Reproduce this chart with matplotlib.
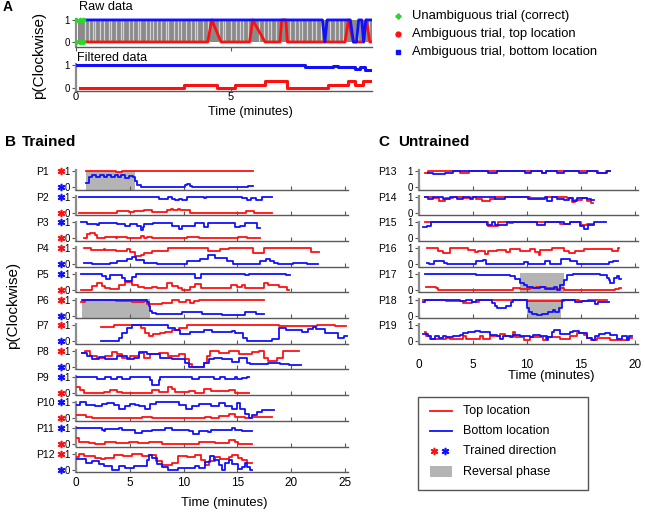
import matplotlib
matplotlib.use('Agg')
import matplotlib.pyplot as plt
from matplotlib.patches import Rectangle

plt.rcParams['font.family'] = ['Liberation Sans', 'DejaVu Sans']

RED = '#ff1010'
BLUE = '#1010ff'
GREEN = '#22dd22'
SHADE = '#b4b4b4'
SPINE = '#5a5a5a'

# ---------------- panel A (one example participant) ----------------
A_raw_red = [(0.3, 0), (4.25, 0), (4.38, 1), (4.68, 0), (5.6, 0), (5.7, 1), (6.1, 0),
             (6.58, 0), (6.64, 1), (6.77, 1), (6.82, 0), (8.68, 0), (8.79, 1), (8.95, 0),
             (9.27, 0), (9.37, 1), (9.48, 0), (9.55, 0)]
A_raw_blue = [(0.3, 1), (7.95, 1), (8.03, 0), (8.1, 1), (8.85, 1), (8.95, 0), (9.05, 0),
              (9.12, 1), (9.22, 1), (9.28, 0), (9.35, 1), (9.55, 1)]
A_green_t = [0.0, 0.12, 0.24]
A_trial_stripes = [0.3, 0.42, 0.55, 0.61, 0.78, 0.9, 1.05, 1.12, 1.3, 1.45, 1.52, 1.7, 1.85,
                   2.0, 2.08, 2.25, 2.4, 2.47, 2.6, 2.75, 2.9, 2.97, 3.15, 3.3, 3.38, 3.55,
                   3.7, 3.85, 3.92, 4.1, 4.25, 4.6, 4.75, 4.82, 5.0, 5.15, 5.3, 5.38, 5.55,
                   5.9, 6.05, 6.2, 6.3, 6.45, 6.9, 7.05, 7.2, 7.28, 7.45, 7.6, 7.75, 7.9,
                   8.2, 8.35, 8.5, 8.6, 9.1, 9.45]
A_filt_blue = [(0, 1), (7.4, 0.9), (8.3, 0.97), (8.45, 0.9), (9.0, 0.83), (9.16, 0.9),
               (9.32, 0.8), (9.55, 0.8)]
A_filt_red = [(0.13, 0), (3.5, 0.14), (4.54, 0), (5.13, 0.14), (6.1, 0.3), (6.8, 0.0),
              (8.14, 0.14), (8.78, 0.3), (9.0, 0.14), (9.25, 0.3), (9.55, 0.3)]

# ---------------- panel B (trained) ----------------
P1_red = [(0.93, 1), (3.7, 0.93), (4.3, 1), (16.5, 1)]
P1_blue = [(0.93, 0.25), (1.2, 0.6), (1.5, 0.72), (1.9, 0.65), (2.2, 0.72), (2.6, 0.62),
           (2.9, 0.72), (3.3, 0.65), (3.6, 0.75), (3.9, 0.6), (4.2, 0.72), (4.6, 0.55),
           (4.9, 0.7), (5.3, 0.6), (5.5, 0.4), (5.7, 0.15), (6.0, 0.0), (10.1, 0.1),
           (10.3, 0.2), (10.6, 0.05), (10.8, 0.0), (16.0, 0.05), (16.5, 0.05)]
P2_red = [(0.31, 0), (3.8, 0.1), (4.9, 0.05), (5.4, 0.12), (6.3, 0.2), (7.1, 0.05),
          (8.5, 0.15), (8.8, 0.25), (9.0, 0.15), (9.5, 0.25), (9.7, 0.15), (10.6, 0.0),
          (15.8, 0.1), (16.6, 0.0), (18.2, 0.0)]
P2_blue = [(0.31, 1), (7.7, 0.88), (8.6, 1), (8.9, 0.85), (9.2, 0.8), (9.6, 0.88),
           (9.9, 0.8), (10.3, 1), (11.9, 0.92), (12.1, 1), (15.4, 0.9), (15.9, 0.82),
           (16.3, 0.9), (16.7, 0.82), (17.3, 1), (18.2, 1)]
P3_red = [(0.7, 0), (1.0, 0.25), (1.3, 0.35), (1.8, 0.2), (1.95, 0.05), (2.1, 0),
          (2.7, 0.1), (3.7, 0.05), (3.8, 0.1), (4.7, 0.0), (6.0, 0.15), (6.3, 0.05),
          (6.6, 0.1), (7.1, 0.0), (10.3, 0.1), (11.4, 0.0), (15.1, 0.1), (15.9, 0.05),
          (17.1, 0.05)]
P3_blue = [(0.5, 1), (1.0, 0.93), (1.95, 0.85), (2.1, 0.95), (3.8, 0.92), (4.6, 0.8),
           (5.05, 0.92), (5.7, 0.8), (6.0, 0.55), (6.2, 0.7), (6.3, 0.9), (7.2, 0.95),
           (8.9, 0.8), (9.55, 0.6), (9.85, 0.75), (11.1, 0.95), (11.9, 0.7), (12.3, 0.95),
           (14.8, 0.7), (15.3, 0.8), (15.75, 0.95), (16.8, 0.65), (17.1, 0.65)]
P4_red = [(0.7, 1), (1.4, 0.9), (2.6, 0.96), (2.7, 0.88), (3.7, 0.83), (4.7, 0.94),
          (5.0, 0.73), (5.5, 0.48), (6.0, 0.58), (6.3, 0.69), (7.1, 0.79), (8.0, 0.85),
          (8.6, 1), (12.3, 0.85), (13.0, 0.79), (13.4, 0.94), (14.2, 1), (16.5, 0.69),
          (17.5, 1), (21.9, 0.75), (22.6, 0.75)]
P4_blue = [(0.7, 0.1), (1.5, 0.0), (3.2, 0.1), (3.8, 0.2), (4.7, 0.35), (5.2, 0.45),
           (5.6, 0.27), (6.3, 0.06), (7.5, 0.0), (10.3, 0.2), (11.5, 0.35), (12.3, 0.58),
           (12.9, 0.4), (14.0, 0.2), (14.6, 0.0), (17.1, 0.2), (17.7, 0.3), (18.0, 0.2),
           (18.4, 0.1), (18.8, 0.0), (20.2, 0.1), (21.5, 0.0), (22.5, 0.0)]
P5_red = [(0.5, 0), (1.5, 0.25), (1.95, 0.45), (2.4, 0.25), (2.7, 0.1), (3.2, 0.05),
          (4.0, 0.3), (4.6, 0.5), (5.2, 0.3), (5.8, 0.15), (6.3, 0.1), (7.1, 0.2),
          (7.5, 0.1), (8.5, 0.4), (8.9, 0.25), (9.5, 0.1), (9.9, 0.0), (10.6, 0.15),
          (11.1, 0.35), (11.6, 0.1), (14.4, 0.3), (15.0, 0.2), (15.4, 0.3), (15.75, 0.1),
          (17.5, 0.45), (17.9, 0.3), (18.85, 0.2), (19.6, 0.0), (19.8, 0.0)]
P5_blue = [(0.5, 1), (2.4, 0.85), (2.8, 0.7), (3.2, 0.9), (4.3, 0.75), (4.6, 0.55),
           (5.2, 0.8), (5.6, 1), (11.1, 0.75), (11.6, 1), (15.75, 0.93), (16.1, 1),
           (19.5, 0.93), (19.9, 0.93)]
P6_red = [(0.5, 0.85), (0.8, 1), (2.7, 0.95), (3.7, 0.9), (5.2, 0.85), (6.3, 0.9),
          (6.6, 0.75), (6.8, 0.7), (7.1, 0.75), (8.0, 0.8), (8.9, 0.95), (9.55, 0.85),
          (10.2, 1), (10.6, 0.8), (10.95, 0.9), (11.4, 1), (17.5, 1)]
P6_blue = [(0.55, 1), (2.7, 0.95), (4.3, 1), (5.8, 0.95), (6.6, 0.85), (6.8, 0.6),
           (6.9, 0.3), (7.1, 0.15), (7.4, 0.07), (9.9, 0.2), (11.7, 0.07), (13.6, 0.03),
           (15.75, 0.25), (16.7, 0.07), (17.5, 0.07)]
P7_red = [(2.35, 0.9), (3.5, 1), (6.0, 0.8), (6.45, 0.5), (6.75, 0.3), (7.2, 0.45),
          (7.85, 0.5), (8.3, 0.6), (8.9, 0.7), (9.55, 0.85), (10.3, 1), (18.85, 0.95),
          (22.4, 1), (24.1, 0.92), (25.1, 0.92)]
P7_blue = [(2.3, 0), (4.0, 0.2), (4.3, 0.5), (4.75, 0.8), (5.2, 1), (8.6, 0.85),
           (9.25, 0.7), (9.7, 0.45), (10.65, 0.6), (11.9, 0.7), (12.65, 0.6), (13.6, 0.55),
           (14.5, 0.65), (14.8, 0.5), (15.5, 0.2), (15.9, 0.0), (18.2, 0.15), (18.85, 0.85),
           (19.5, 0.7), (21.0, 0.6), (21.6, 0.75), (22.0, 0.9), (22.3, 0.75), (23.2, 0.5),
           (24.4, 0.2), (24.9, 0.3), (25.2, 0.3)]
P8_red = [(0.55, 0.9), (0.87, 1), (1.33, 0.69), (1.95, 0.58), (2.73, 0.69), (3.35, 0.94),
          (3.8, 0.79), (4.28, 0.58), (5.05, 0.69), (5.83, 0.9), (6.29, 0.58), (6.9, 0.79),
          (7.7, 0.9), (8.6, 0.69), (9.55, 0.79), (10.17, 0.48), (10.48, 0.17), (10.8, 0.02),
          (11.9, 0.27), (12.2, 0.69), (12.5, 1), (13.27, 0.9), (14.2, 1), (15.13, 0.79),
          (16.4, 0.94), (17.0, 1), (17.5, 0.58), (17.9, 0.375), (18.7, 0.58), (19.3, 1),
          (20.7, 1)]
P8_blue = [(0.55, 0.9), (1.0, 0.69), (1.5, 0.48), (2.1, 0.625), (2.7, 0.48), (3.8, 0.69),
           (4.7, 0.48), (5.36, 0.58), (5.83, 0.94), (6.6, 0.79), (7.84, 0.58), (8.93, 0.48),
           (10.17, 0.27), (10.5, 0.0), (11.9, 0.27), (12.34, 0.48), (12.8, 0.58),
           (13.6, 0.48), (14.5, 0.33), (15.13, 0.58), (15.9, 0.27), (16.2, 0.17),
           (17.9, 0.27), (19.0, 0.17), (19.8, 0.1), (20.9, 0.1)]
P9_red = [(0, 0.35), (0.4, 0.15), (0.7, 0.0), (2.6, 0.05), (3.2, 0.15), (3.8, 0.05),
          (4.3, 0.0), (7.1, 0.15), (7.7, 0.05), (8.6, 0.35), (8.9, 0.2), (9.2, 0.05),
          (10.5, 0.1), (11.1, 0.0), (11.9, 0.2), (12.6, 0.1), (14.2, 0.15), (14.8, 0.0),
          (16.1, 0.0)]
P9_blue = [(0, 1), (1.95, 0.85), (2.7, 0.95), (3.3, 0.88), (3.8, 1), (4.3, 0.85),
           (5.05, 1), (6.9, 0.8), (7.1, 0.5), (7.7, 0.8), (7.85, 1), (10.8, 0.88),
           (11.4, 1), (12.8, 0.88), (13.4, 1), (13.9, 0.85), (14.8, 1), (15.0, 0.85),
           (15.4, 0.9), (15.9, 1), (16.1, 1)]
P10_red = [(0, 0.2), (0.9, 0.1), (1.5, 0.0), (6.1, 0.1), (7.1, 0.0), (9.9, 0.05),
           (12.0, 0.1), (12.6, 0.05), (13.3, 0.15), (14.2, 0.25), (14.8, 0.1),
           (15.75, 0.0), (16.4, 0.1), (18.2, 0.1)]
P10_blue = [(0, 0.85), (0.4, 1), (0.9, 0.85), (1.8, 0.8), (2.4, 0.9), (2.9, 0.95),
            (3.5, 0.85), (4.0, 0.6), (4.6, 0.8), (5.05, 0.9), (5.5, 0.85), (5.9, 0.8),
            (6.4, 0.6), (6.9, 0.9), (7.4, 1), (9.6, 0.85), (10.2, 0.6), (10.8, 0.75),
            (11.4, 0.9), (12.6, 0.8), (13.3, 0.95), (13.9, 0.75), (14.5, 0.6), (15.0, 0.95),
            (15.3, 0.6), (15.7, 0.3), (16.1, 0.0), (16.4, 0.2), (16.85, 0.4), (17.3, 0.55),
            (17.9, 0.5), (18.4, 0.5)]
P11_red = [(0, 0.4), (0.25, 0.15), (1.2, 0.05), (1.8, 0.0), (2.7, 0.1), (3.7, 0.05),
           (4.9, 0.1), (5.8, 0.05), (6.8, 0.1), (8.0, 0.0), (11.4, 0.1), (12.9, 0.05),
           (14.2, 0.25), (14.8, 0.1), (15.1, 0.0), (16.4, 0.0)]
P11_blue = [(0, 1), (2.4, 0.9), (2.6, 0.8), (2.7, 0.95), (3.97, 1), (4.3, 0.85),
            (5.5, 0.7), (6.1, 0.8), (7.1, 0.9), (8.3, 1), (8.9, 0.9), (10.5, 0.8),
            (10.9, 0.6), (11.4, 0.8), (12.3, 0.75), (12.6, 0.9), (14.5, 1), (14.8, 0.85),
            (15.4, 0.8), (16.4, 0.8)]
P12_red = [(0, 0.8), (0.25, 1), (0.7, 0.85), (1.8, 0.75), (2.3, 0.65), (2.7, 0.75),
           (3.5, 0.95), (4.4, 0.85), (5.2, 1), (6.1, 0.85), (6.8, 0.9), (7.4, 0.55),
           (8.0, 0.3), (8.9, 0.4), (9.5, 0.85), (10.3, 0.8), (11.1, 0.9), (11.6, 0.6),
           (12.0, 0.3), (12.35, 0.55), (12.9, 0.8), (13.4, 0.65), (14.2, 0.8), (14.5, 0.9),
           (15.1, 0.75), (15.4, 0.6), (15.9, 0.4), (16.4, 0.4)]
P12_blue = [(0, 0.65), (0.9, 0.45), (1.5, 0.55), (2.1, 0.35), (2.6, 0.25), (3.35, 0.0),
            (4.0, 0.25), (4.6, 0.1), (5.4, 0.25), (6.6, 0.6), (6.8, 0.95), (7.1, 0.75),
            (7.5, 0.35), (8.0, 0.15), (8.6, 0.0), (9.5, 0.1), (11.1, 0.25), (11.4, 0.1),
            (12.0, 0.5), (12.5, 0.85), (12.8, 0.6), (13.3, 0.3), (13.6, 0.0), (13.9, 0.4),
            (14.2, 0.6), (14.5, 0.35), (15.1, 0.05), (15.4, 0.2), (15.75, 0.4),
            (15.9, 0.15), (16.2, 0.0), (16.4, 0.0)]

# ---------------- panel C (untrained) ----------------
P13_red = [(0.53, 0.9), (0.84, 1), (3.8, 0.87), (4.6, 1), (11.4, 0.9), (11.8, 1),
           (16.6, 0.9), (17.3, 1), (17.7, 1)]
P13_blue = [(0.84, 0.9), (1.3, 0.8), (2.4, 0.9), (3.16, 1), (6.4, 0.85), (7.2, 1),
            (9.8, 0.85), (10.4, 1), (11.4, 0.9), (11.8, 1), (12.8, 0.85), (13.4, 1),
            (14.8, 0.85), (15.6, 1), (16.5, 0.85), (17.4, 1), (17.75, 1)]
P14_red = [(0.53, 1), (1.3, 0.9), (1.9, 0.75), (2.4, 0.9), (3.16, 1), (4.1, 0.9),
           (4.9, 1), (5.3, 0.85), (5.8, 0.75), (6.6, 0.85), (7.0, 1), (10.3, 0.9),
           (11.8, 1), (13.7, 0.9), (14.2, 0.65), (14.5, 0.8), (15.1, 0.9), (15.6, 0.75),
           (15.9, 0.6), (16.1, 0.6)]
P14_blue = [(0.53, 1), (0.84, 0.85), (1.3, 1), (2.2, 0.85), (2.85, 1), (3.5, 0.85),
            (4.1, 1), (4.7, 0.85), (5.0, 1), (7.0, 0.85), (8.0, 1), (10.1, 0.85),
            (11.7, 1), (11.9, 0.75), (12.3, 1), (12.8, 0.85), (13.4, 0.8), (13.9, 0.9),
            (14.3, 0.75), (14.6, 0.95), (15.6, 0.85), (15.9, 0.8), (16.2, 0.8)]
P15_red = [(0.53, 1), (6.4, 0.75), (7.35, 1), (8.3, 0.95), (8.7, 1), (13.1, 0.9),
           (14.0, 1), (15.0, 0.85), (15.6, 0.9), (16.2, 0.9)]
P15_blue = [(0.37, 0.7), (0.7, 0.8), (1.15, 1), (6.26, 0.85), (6.73, 1), (7.04, 0.85),
            (8.12, 1), (10.9, 0.85), (11.7, 1), (13.4, 0.9), (14.0, 1), (14.95, 0.8),
            (15.3, 0.6), (15.7, 0.85), (16.2, 1), (17.3, 1)]
P16_red = [(0.74, 1), (1.77, 0.85), (2.2, 0.7), (2.85, 1), (4.56, 0.9), (5.2, 0.75),
           (5.5, 0.85), (6.1, 0.65), (6.4, 0.8), (7.2, 0.9), (8.1, 0.75), (8.4, 0.95),
           (9.4, 0.85), (10.3, 0.95), (10.76, 0.75), (11.1, 0.6), (11.25, 0.9), (12.3, 1),
           (13.4, 0.85), (13.9, 0.7), (14.5, 0.8), (15.3, 0.95), (17.9, 0.85), (18.4, 1),
           (18.5, 1)]
P16_blue = [(0.74, 0.1), (0.95, 0.0), (1.4, 0.2), (2.3, 0.05), (2.6, 0.0), (5.3, 0.2),
            (5.9, 0.25), (6.2, 0.03), (9.7, 0.12), (10.1, 0.03), (11.7, 0.2), (12.1, 0.03),
            (13.2, 0.3), (13.6, 0.35), (14.0, 0.2), (14.6, 0.03), (17.6, 0.12), (18.0, 0.2),
            (18.4, 0.2)]
P17_red = [(0.68, 0.15), (0.84, 0.2), (1.6, 0.1), (1.77, 0.0), (8.7, 0.1), (9.4, 0.05),
           (10.3, 0.1), (10.8, 0.15), (11.8, 0.1), (12.5, 0.05), (13.1, 0.1), (13.4, 0.0),
           (18.2, 0.05), (18.5, 0.1), (18.7, 0.1)]
P17_blue = [(0.53, 1), (5.3, 0.9), (7.2, 0.95), (8.4, 0.85), (8.9, 0.65), (9.4, 0.45),
            (9.7, 0.3), (10.0, 0.2), (10.6, 0.1), (11.2, 0.2), (11.7, 0.05), (12.5, 0.2),
            (12.8, 0.0), (13.1, 0.3), (13.4, 0.6), (13.7, 0.9), (14.3, 1), (16.8, 0.9),
            (17.4, 0.75), (17.6, 0.6), (17.75, 0.4), (18.05, 0.75), (18.35, 0.85),
            (18.5, 0.7), (18.7, 0.7)]
P18_red = [(0.37, 1), (2.5, 0.9), (4.1, 0.8), (4.9, 0.85), (5.6, 1), (6.9, 0.95),
           (8.4, 1), (10.0, 0.93), (13.4, 1), (14.8, 0.9), (15.7, 1), (17.4, 1)]
P18_blue = [(0.37, 0.85), (0.53, 1), (3.8, 0.9), (4.4, 1), (4.9, 0.85), (5.3, 1),
            (6.8, 0.8), (7.0, 0.6), (7.2, 0.45), (8.1, 0.6), (8.5, 0.85), (8.7, 1),
            (10.0, 0.5), (10.2, 0.2), (10.5, 0.1), (10.9, 0.02), (11.4, 0.1), (12.0, 0.2),
            (12.4, 0.35), (12.65, 0.2), (12.95, 0.5), (13.3, 0.95), (13.5, 1), (14.5, 0.85),
            (15.1, 0.9), (16.3, 0.75), (16.6, 0.85), (17.6, 0.85)]
P19_red = [(0.53, 0.55), (0.68, 0.35), (1.0, 0.15), (2.54, 0.2), (2.85, 0.15), (4.1, 0.3),
           (4.4, 0.15), (5.64, 0.35), (5.95, 0.15), (6.6, 0.3), (7.5, 0.45), (7.97, 0.35),
           (8.74, 0.55), (8.9, 0.25), (9.7, 0.1), (10.3, 0.25), (11.5, 0.1), (11.8, 0.25),
           (13.1, 0.15), (14.0, 0.35), (14.6, 0.5), (15.3, 0.4), (15.6, 0.2), (15.9, 0.1),
           (16.5, 0.2), (17.7, 0.1), (18.2, 0.05), (19.3, 0.2), (19.75, 0.2)]
P19_blue = [(0.37, 0.45), (0.84, 0.3), (1.15, 0.15), (1.46, 0.3), (1.9, 0.2), (2.2, 0.35),
            (2.54, 0.25), (3.16, 0.35), (3.78, 0.4), (4.1, 0.5), (4.56, 0.55), (5.18, 0.65),
            (5.64, 0.55), (6.1, 0.6), (6.57, 0.4), (7.19, 0.3), (7.5, 0.15), (7.8, 0.35),
            (8.43, 0.25), (8.74, 0.4), (9.36, 0.35), (10.3, 0.25), (10.6, 0.4), (11.22, 0.35),
            (11.84, 0.05), (12.0, 0.25), (12.3, 0.55), (12.5, 0.7), (13.1, 0.45), (14.0, 0.55),
            (14.3, 0.65), (14.8, 0.5), (15.6, 0.2), (16.0, 0.1), (16.34, 0.3), (16.65, 0.45),
            (17.27, 0.5), (17.7, 0.4), (18.36, 0.15), (18.8, 0.35), (19.3, 0.1), (19.45, 0.3),
            (19.75, 0.3)]

trained_names = ['P1', 'P2', 'P3', 'P4', 'P5', 'P6', 'P7', 'P8', 'P9', 'P10', 'P11', 'P12']
trained_red = [P1_red, P2_red, P3_red, P4_red, P5_red, P6_red, P7_red, P8_red, P9_red,
               P10_red, P11_red, P12_red]
trained_blue = [P1_blue, P2_blue, P3_blue, P4_blue, P5_blue, P6_blue, P7_blue, P8_blue,
                P9_blue, P10_blue, P11_blue, P12_blue]
# which location was trained clockwise (marked at 1)
trained_top = ['red', 'blue', 'blue', 'red', 'blue', 'red', 'red', 'red', 'blue', 'blue',
               'blue', 'red']
trained_reversal = {0: (0.93, 5.46), 5: (0.55, 6.9)}

untrained_names = ['P13', 'P14', 'P15', 'P16', 'P17', 'P18', 'P19']
untrained_red = [P13_red, P14_red, P15_red, P16_red, P17_red, P18_red, P19_red]
untrained_blue = [P13_blue, P14_blue, P15_blue, P16_blue, P17_blue, P18_blue, P19_blue]
untrained_reversal = {4: (9.4, 13.4), 5: (10.0, 13.2)}

W, H = 645, 513
fig = plt.figure(figsize=(W / 100, H / 100), dpi=100)


def add_ax(left, top, right, bottom):
    return fig.add_axes([left / W, 1 - bottom / H, (right - left) / W, (bottom - top) / H])


def steps(ax, pts, color, lw=1.3):
    t, y = zip(*pts)
    ax.step(t, y, where='post', color=color, lw=lw, zorder=3)


def style_left(ax, ylo, label_size):
    for s in ('top', 'right'):
        ax.spines[s].set_visible(False)
    ax.spines['left'].set_color('#8c8c8c')
    ax.spines['left'].set_linewidth(1.6)
    ax.spines['left'].set_bounds(ylo, 1.05)
    ax.spines['bottom'].set_color(SPINE)
    ax.spines['bottom'].set_linewidth(1.0)
    ax.set_yticks([0, 1])
    ax.set_yticklabels(['0', '1'])
    ax.tick_params(axis='y', length=3, width=0.8, pad=1.5, color='#555555',
                   labelsize=label_size)
    ax.patch.set_alpha(0)


# overlay for legends / labels in pixel units
ov = fig.add_axes([0, 0, 1, 1])
ov.set_xlim(0, W)
ov.set_ylim(H, 0)
ov.axis('off')
ov.set_zorder(5)

# ---------------- panel A ----------------
ax_raw = add_ax(76, 12, 372, 47)
ax_raw.set_xlim(0, 9.55)
ax_raw.set_ylim(-0.227, 1.36)
style_left(ax_raw, -0.227, 7)
ax_raw.set_xticks([0, 5])
ax_raw.tick_params(axis='x', direction='out', length=3, color=SPINE, labelbottom=False)
ax_raw.fill_between([0.06, 9.55], 0, 1, color='#8a8a8a', lw=0, zorder=1)
ax_raw.vlines(A_trial_stripes, 0, 1, colors='#d4d4d4', lw=0.9, zorder=2)
steps_t, steps_y = zip(*A_raw_red)
ax_raw.plot(steps_t, steps_y, color=RED, lw=2, zorder=3)
steps_t, steps_y = zip(*A_raw_blue)
ax_raw.plot(steps_t, steps_y, color=BLUE, lw=2, zorder=3)
ax_raw.plot(A_green_t, [1] * len(A_green_t), ls='', marker='P', ms=3, color=GREEN, zorder=4)
ax_raw.plot(A_green_t, [0] * len(A_green_t), ls='', marker='P', ms=3, color=GREEN, zorder=4)

ax_filt = add_ax(76, 57, 372, 91)
ax_filt.set_xlim(0, 9.55)
ax_filt.set_ylim(-0.13, 1.35)
style_left(ax_filt, -0.13, 7)
ax_filt.set_xticks([0, 5])
ax_filt.tick_params(axis='x', direction='in', length=3, color=SPINE, labelsize=8, pad=1)
steps(ax_filt, A_filt_red, RED, lw=2.2)
steps(ax_filt, A_filt_blue, BLUE, lw=2.2)

fig.text(3 / W, 1 - 7 / H, 'A', fontsize=10, weight='bold', va='center')
fig.text(79 / W, 1 - 6.5 / H, 'Raw data', fontsize=9.2, va='center')
fig.text(77 / W, 1 - 58 / H, 'Filtered data', fontsize=9, va='center')
fig.text(39 / W, 1 - 55 / H, 'p(Clockwise)', fontsize=11, rotation=90, ha='center',
         va='center')
fig.text(250 / W, 1 - 112 / H, 'Time (minutes)', fontsize=9.2, ha='center', va='center')

legA = [('Unambiguous trial (correct)', GREEN, 'P'),
        ('Ambiguous trial, top location', RED, 'o'),
        ('Ambiguous trial, bottom location', BLUE, 's')]
for k, (lab, col, mk) in enumerate(legA):
    yk = 16 + 18 * k
    ov.plot(398, yk, ls='', marker=mk, color=col, ms=3.5)
    ov.text(412, yk, lab, fontsize=9.4, va='center')

# ---------------- panels B and C ----------------
ROW_H = 25.7
YLO, YHI = -0.156, 1.45


def row_axes(i, left, right, xmax):
    bottom = 189.5 + ROW_H * i
    ax = add_ax(left, bottom - ROW_H, right, bottom)
    ax.set_xlim(0, xmax)
    ax.set_ylim(YLO, YHI)
    style_left(ax, YLO, 7)
    ax.set_xticks(range(0, int(xmax) + 1, 5))
    return ax, bottom


for i, name in enumerate(trained_names):
    ax, bottom = row_axes(i, 76, 348, 25.3)
    last = i == len(trained_names) - 1
    ax.tick_params(axis='x', direction='in', length=3, color=SPINE, labelbottom=last,
                   labelsize=8.5, pad=3.5)
    if i in trained_reversal:
        t0, t1 = trained_reversal[i]
        ax.fill_between([t0, t1], YLO, 1.02, color=SHADE, lw=0, zorder=1)
    steps(ax, trained_red[i], RED)
    steps(ax, trained_blue[i], BLUE)
    top_col = RED if trained_top[i] == 'red' else BLUE
    bot_col = BLUE if trained_top[i] == 'red' else RED
    ov.plot(61, bottom - 18.5, ls='', marker='$*$', ms=4.5, color=top_col)
    ov.plot(61, bottom - 2.5, ls='', marker='$*$', ms=4.5, color=bot_col)
    ov.text(36, bottom - 17.5, name, fontsize=7.5, va='center')

for j, name in enumerate(untrained_names):
    ax, bottom = row_axes(j, 419, 638, 20.3)
    last = j == len(untrained_names) - 1
    ax.tick_params(axis='x', direction='in', length=3, color=SPINE, labelbottom=last,
                   labelsize=8.5, pad=11)
    if j in untrained_reversal:
        t0, t1 = untrained_reversal[j]
        ax.fill_between([t0, t1], YLO, 1.02, color=SHADE, lw=0, zorder=1)
    steps(ax, untrained_red[j], RED)
    steps(ax, untrained_blue[j], BLUE)
    ov.text(378, bottom - 17.5, name, fontsize=7.5, va='center')

fig.text(5 / W, 1 - 142 / H, 'B', fontsize=11, weight='bold', va='center')
fig.text(22 / W, 1 - 142 / H, 'Trained', fontsize=11, weight='bold', va='center')
fig.text(378 / W, 1 - 142 / H, 'C', fontsize=11, weight='bold', va='center')
fig.text(398 / W, 1 - 142 / H, 'Untrained', fontsize=11, weight='bold', va='center')
fig.text(13 / W, 1 - 305 / H, 'p(Clockwise)', fontsize=11, rotation=90, ha='center',
         va='center')
fig.text(224 / W, 1 - 503 / H, 'Time (minutes)', fontsize=9.4, ha='center', va='center')
fig.text(551 / W, 1 - 376 / H, 'Time (minutes)', fontsize=9.4, ha='center', va='center')

# legend for B/C
ov.add_patch(Rectangle((418, 397), 170, 93, fill=False, ec='#555555', lw=1))
ov.plot([430, 452], [411, 411], color=RED, lw=1.3)
ov.text(463, 411, 'Top location', fontsize=9, va='center')
ov.plot([430, 452], [431, 431], color=BLUE, lw=1.3)
ov.text(463, 431, 'Bottom location', fontsize=9, va='center')
ov.plot(434, 451, ls='', marker='$*$', ms=4.5, color=RED)
ov.plot(445, 451, ls='', marker='$*$', ms=4.5, color=BLUE)
ov.text(463, 451, 'Trained direction', fontsize=9, va='center')
ov.add_patch(Rectangle((430, 466), 22, 11, color=SHADE, lw=0))
ov.text(463, 472, 'Reversal phase', fontsize=9, va='center')

fig.savefig('out.png', dpi=100)
